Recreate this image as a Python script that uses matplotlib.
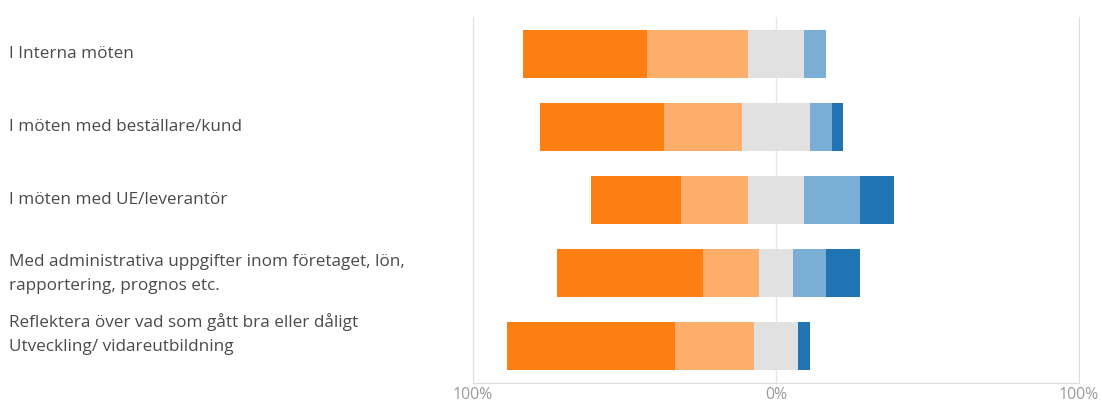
import numpy as np
import matplotlib.pyplot as plt
from matplotlib.transforms import blended_transform_factory

# answers per statement, 27 respondents
categories = [
    'I Interna möten',
    'I möten med beställare/kund',
    'I möten med UE/leverantör',
    'Med administrativa uppgifter inom företaget, lön,\nrapportering, prognos etc.',
    'Reflektera över vad som gått bra eller dåligt\nUtveckling/ vidareutbildning',
]
n_resp = 27
very_neg = [11, 11, 8, 13, 15]
neg = [9, 7, 6, 5, 7]
neutral = [5, 6, 5, 3, 4]
pos = [2, 2, 5, 3, 0]
very_pos = [0, 1, 3, 3, 1]
tick_vals = [-100, 0, 100]
tick_labels = ['100%', '0%', '100%']

colors = ['#fd7f12', '#fdae6b', '#e1e1e1', '#7aaed5', '#2174b4']

pct = [np.array(s) / n_resp * 100 for s in (very_neg, neg, neutral, pos, very_pos)]
# centre the neutral segment on zero
start = -(pct[0] + pct[1] + pct[2] / 2)

fig = plt.figure(figsize=(11.02, 4.03), dpi=100)
ax = fig.add_axes([0.4292, 0.0496, 0.5499, 0.908])

y = np.arange(len(categories))
ax.axvline(0, color='#e6e6e6', lw=1, zorder=0)
left = start.copy()
for vals, c in zip(pct, colors):
    ax.barh(y, vals, left=left, height=0.66, color=c, zorder=2)
    left = left + vals

ax.set_xlim(-100, 100)
ax.set_ylim(len(categories) - 0.493, -0.507)
ax.set_yticks([])
ax.set_xticks(tick_vals)
ax.set_xticklabels(tick_labels, fontsize=11.4, color='#9a9a9a', family='Open Sans')
ax.tick_params(axis='x', length=0, pad=3)
for side in ('left', 'right', 'bottom'):
    ax.spines[side].set_color('#dddddd')
ax.spines['top'].set_visible(False)

# category labels in the left margin
trans = blended_transform_factory(fig.transFigure, ax.transData)
label_shift = [0, 0, 0, 0.01, -0.16]
for i, lab in enumerate(categories):
    ax.text(0.008, i + label_shift[i], lab, transform=trans,
            ha='left', va='center', fontsize=12.3, color='#4a4a4a',
            family='Open Sans', linespacing=1.68)

fig.savefig('out.png', dpi=100)
